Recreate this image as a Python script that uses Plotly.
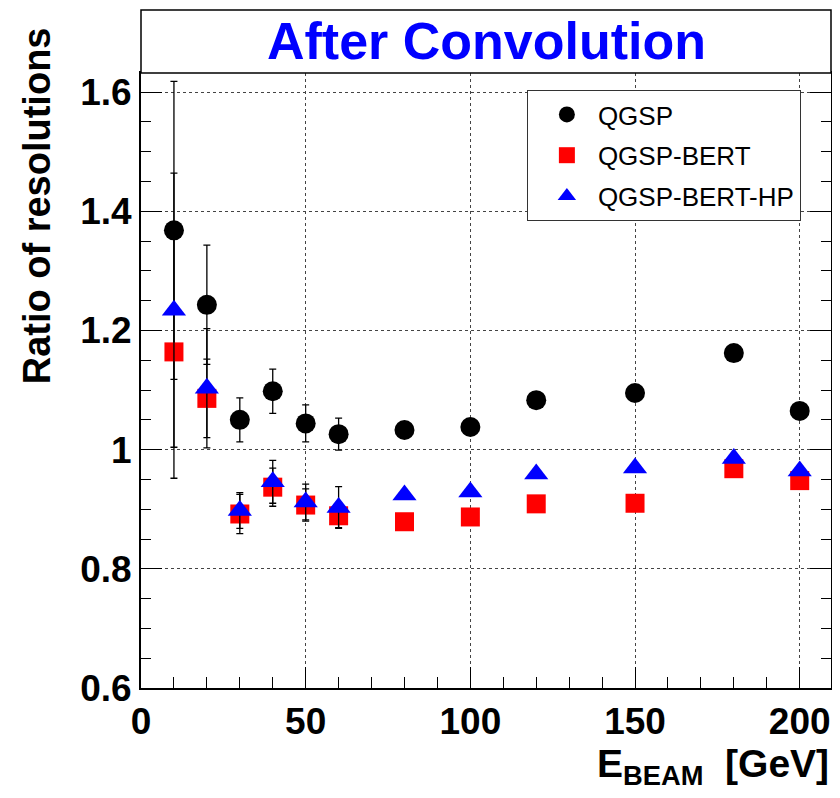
import plotly.graph_objects as go

energy = [10, 20, 30, 40, 50, 60, 80, 100, 120, 150, 180, 200]

qgsp = [1.368, 1.243, 1.050, 1.098, 1.044, 1.026, 1.033, 1.038, 1.083, 1.095, 1.162, 1.065]
qgsp_err = [0.250, 0.100, 0.037, 0.037, 0.031, 0.027, 0, 0, 0, 0, 0, 0]

bert = [1.164, 1.086, 0.892, 0.937, 0.907, 0.889, 0.879, 0.887, 0.909, 0.910, 0.968, 0.948]
bert_err = [0.212, 0.066, 0.033, 0.032, 0.027, 0.020, 0, 0, 0, 0, 0, 0]

bert_hp = [1.234, 1.103, 0.898, 0.946, 0.912, 0.903, 0.924, 0.929, 0.959, 0.969, 0.985, 0.964]
bert_hp_err = [0.230, 0.100, 0.030, 0.036, 0.030, 0.035, 0, 0, 0, 0, 0, 0]

series = [
    ("QGSP", qgsp, qgsp_err, "black", "circle", 20),
    ("QGSP-BERT", bert, bert_err, "red", "square", 19),
    ("QGSP-BERT-HP", bert_hp, bert_hp_err, "blue", "triangle-up", 21),
]

# page has an 8px body margin: figure occupies window pixels 8..840 / 8..798
OFF = 8
W, H = 840 - OFF, 798 - OFF
L, R, T, B = 141 - OFF, 7, 73 - OFF, 110
pw, ph = W - L - R, H - T - B

def px_x(p):  # reference window pixel -> paper x
    return (p - OFF - L) / pw

def px_y(p):  # reference window pixel -> paper y
    return (H - B - (p - OFF)) / ph

fig = go.Figure()
for name, vals, errs, col, sym, sz in series:
    fig.add_trace(go.Scatter(
        x=energy, y=vals, mode="markers", name=name,
        legendgroup=name,
        marker=dict(color=col, symbol=sym, size=sz, line=dict(width=0)),
        error_y=dict(type="data", array=errs, visible=True,
                     color="black", thickness=1.3, width=3.5),
    ))

FAM = "Liberation Sans, Arial, sans-serif"
axis_font = dict(family=FAM, size=37, color="black", weight="bold")

fig.update_layout(
    width=W, height=H,
    margin=dict(l=L, r=R, t=T, b=B, pad=0),
    paper_bgcolor="white", plot_bgcolor="white",
    showlegend=True,
    legend=dict(
        x=px_x(528), y=px_y(90), xanchor="left", yanchor="top",
        bgcolor="white", bordercolor="#333", borderwidth=1,
        font=dict(family=FAM, size=26, color="black"),
        tracegroupgap=4, itemwidth=52, indentation=8,
    ),
    xaxis=dict(
        range=[0, 209.5], tickvals=[0, 50, 100, 150, 200],
        ticks="inside", ticklen=21, tickwidth=1, tickcolor="black",
        minor=dict(dtick=10, ticks="inside", ticklen=11, tickcolor="black", showgrid=False),
        showline=True, linecolor="black", linewidth=2, mirror=True,
        showgrid=True, gridcolor="#444", griddash="dot", gridwidth=1,
        zeroline=False, tickfont=axis_font,
    ),
    yaxis=dict(
        range=[0.6, 1.632], tickvals=[0.6, 0.8, 1.0, 1.2, 1.4, 1.6],
        ticktext=["0.6", "0.8", "1", "1.2", "1.4", "1.6"],
        ticks="inside", ticklen=21, tickwidth=1, tickcolor="black",
        minor=dict(dtick=0.05, ticks="inside", ticklen=10, tickcolor="black", showgrid=False),
        showline=True, linecolor="black", linewidth=2, mirror="ticks",
        showgrid=True, gridcolor="#444", griddash="dot", gridwidth=1,
        zeroline=False, tickfont=axis_font,
    ),
)

# title box above the frame
fig.add_shape(type="rect", xref="paper", yref="paper",
              x0=0, x1=1, y0=1, y1=px_y(10),
              line=dict(color="black", width=1.5), fillcolor="white", layer="above")
fig.add_annotation(text="<b>After Convolution</b>", xref="paper", yref="paper",
                   x=0.5, y=px_y(41), xanchor="center", yanchor="middle", showarrow=False,
                   font=dict(family=FAM, size=52, color="blue"))

# axis titles
fig.add_annotation(text="<b>Ratio of resolutions</b>", xref="paper", yref="paper",
                   x=px_x(37), y=px_y(206), xanchor="center", yanchor="middle",
                   textangle=-90, showarrow=False,
                   font=dict(family=FAM, size=38, color="black"))
fig.add_annotation(text="<b>E<sub>BEAM</sub>  [GeV]</b>", xref="paper", yref="paper",
                   x=1, y=px_y(740), xanchor="right", yanchor="top", showarrow=False,
                   font=dict(family=FAM, size=39, color="black"))

fig.write_html("out.html")
